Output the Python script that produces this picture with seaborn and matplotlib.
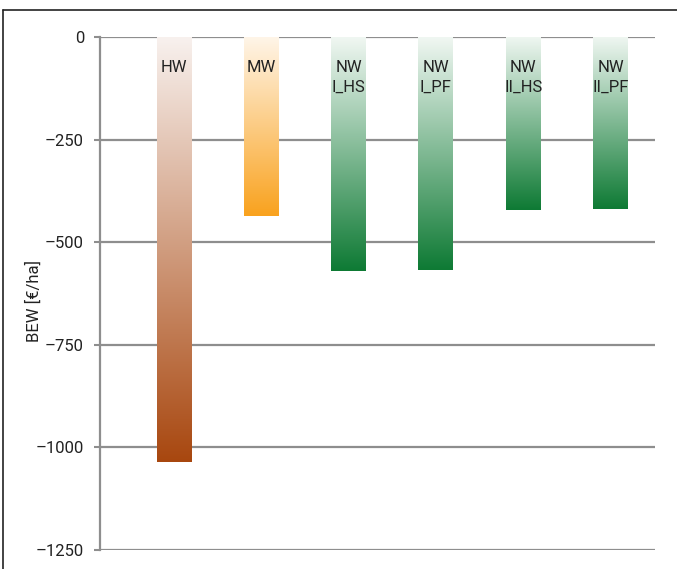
import numpy as np
import matplotlib
matplotlib.use("Agg")
import matplotlib.pyplot as plt
from matplotlib.lines import Line2D
from matplotlib.colors import LinearSegmentedColormap
import pandas as pd
import seaborn as sns

# Bar labels, values (BEW in €/ha) and gradient colours
categories = ["HW", "MW", "NW\nI_HS", "NW\nI_PF", "NW\nII_HS", "NW\nII_PF"]
values = [-1035, -435, -569, -567, -422, -420]
top_colors = ["#F8F1EE", "#FFF5E8", "#F0F7F2", "#F0F7F2", "#F0F7F2", "#F0F7F2"]
bottom_colors = ["#A8470F", "#F9A21E", "#0E7A34", "#0E7A34", "#0E7A34", "#0E7A34"]
yticks = [0, -250, -500, -750, -1000, -1250]
ylabel = "BEW [€/ha]"

sns.set_theme(style="white")
plt.rcParams["font.family"] = ["Roboto", "DejaVu Sans"]
plt.rcParams["axes.unicode_minus"] = True

W, H = 677, 569
fig = plt.figure(figsize=(W / 100, H / 100), dpi=100)
ax = fig.add_axes([100 / W, 1 - 550 / H, 555 / W, 513 / H])

df = pd.DataFrame({"cat": categories, "val": values})
sns.barplot(data=df, x="cat", y="val", width=0.4, color="white", ax=ax,
            zorder=3, saturation=1)

xlim = (-0.848, 5.51)
ylim = (-1250, 0)

# Fill each bar with a vertical gradient, light at zero and saturated at the bottom
for patch, c_top, c_bot in zip(ax.patches, top_colors, bottom_colors):
    bb = patch.get_bbox()
    x0, x1 = bb.x0, bb.x1
    y0, y1 = min(bb.y0, bb.y1), max(bb.y0, bb.y1)
    cmap = LinearSegmentedColormap.from_list("g", [c_bot, c_top])
    grad = np.linspace(0, 1, 256).reshape(-1, 1)
    im = ax.imshow(grad, cmap=cmap, extent=[x0, x1, y0, y1], origin="lower",
                   aspect="auto", zorder=3, interpolation="bicubic")
    im.set_clip_path(patch)
    patch.set_facecolor("none")
    patch.set_edgecolor("none")

# Labels at the top of each bar
for i, cat in enumerate(categories):
    ax.text(i, -55, cat, ha="center", va="top", fontsize=12, color="#222222",
            zorder=5, linespacing=1.45)

ax.set_xlim(*xlim)
ax.set_ylim(*ylim)
ax.set_yticks(yticks)
ax.set_yticklabels([f"{t}".replace("-", "\u2013") for t in yticks])
ax.set_xticks([])
ax.set_xlabel("")
ax.set_ylabel(ylabel, fontsize=12, color="#222222")
ax.yaxis.set_label_coords(-0.104, 0.485)

grid_col = "#8E8E8E"
ax.set_axisbelow(True)
ax.yaxis.grid(True, color=grid_col, linewidth=1.6)
ax.xaxis.grid(False)
for s in ["top", "right", "bottom"]:
    ax.spines[s].set_visible(False)
ax.spines["left"].set_color(grid_col)
ax.spines["left"].set_linewidth(1.6)
ax.tick_params(axis="y", left=True, direction="out", length=4.5, width=1.5,
               color=grid_col, pad=7, labelsize=12, labelcolor="#222222")

# Outer frame (top and left edges)
fig.add_artist(Line2D([3 / W, 3 / W], [0, 1 - 10 / H], color="#222222", lw=1.2))
fig.add_artist(Line2D([3 / W, 1], [1 - 10 / H, 1 - 10 / H], color="#222222", lw=1.2))

fig.savefig("out.png", dpi=100)
